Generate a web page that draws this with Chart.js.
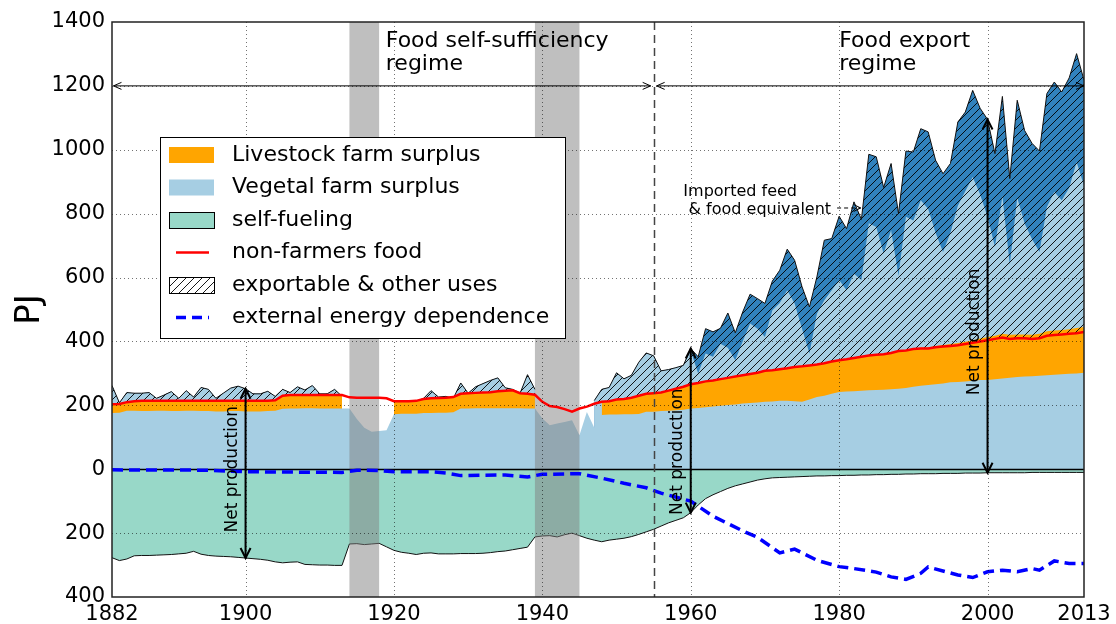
<!DOCTYPE html>
<html>
<head>
<meta charset="utf-8">
<script src="https://cdn.jsdelivr.net/npm/chart.js@4.4.0/dist/chart.umd.min.js"></script>
<style>
  body { margin: 0; background: #fff; }
  canvas { display: block; }
</style>
</head>
<body>
<canvas id="chart" width="1116" height="624"></canvas>
<script>
// years 1882..2013, one value per year
const years = [];
for (let yr = 1882; yr <= 2013; yr++) years.push(yr);

// total incl. imported feed (top outline), null during the wars
const topTotal = [
  262, 208, 240, 238, 238, 240, 222, 232, 243, 222,   // 1882-1891
  246, 226, 256, 250, 222, 238, 254, 260, 252, 236,   // 1892-1901
  236, 244, 228, 250, 240, 258, 248, 262, 236, 236,   // 1902-1911
  250, 228, null, null, null, null, null, null, 200, 205, // 1912-1921
  208, 212, 222, 246, 226, 228, 222, 270, 238, 258,   // 1922-1931
  268, 278, 286, 255, 250, 238, 296, 250, null, null, // 1932-1941
  null, null, null, null, null, 215, 250, 256, 302, 283, // 1942-1951
  294, 335, 364, 355, 308, 312, 318, 325, 378, 352,   // 1952-1961
  440, 430, 441, 489, 427, 492, 548, 534, 519, 589,   // 1962-1971
  623, 689, 654, 571, 508, 602, 717, 722, 792, 753,   // 1972-1981
  837, 782, 986, 978, 882, 957, 800, 996, 993, 1066,  // 1982-1991
  1056, 967, 925, 957, 1087, 1118, 1186, 1130, 1095, 988, // 1992-2001
  1167, 910, 1155, 1060, 1020, 996, 1176, 1212, 1181, 1225, // 2002-2011
  1301, 1218                                          // 2012-2013
];

// domestic production top (light blue under the dark blue imports), 1960..2013
const domestic1960 = [
  370, 300, 362, 352, 393, 380, 341, 400, 456, 440,   // 1960-1969
  414, 498, 520, 560, 519, 440, 362, 487, 529, 560,   // 1970-1979
  592, 560, 612, 592, 770, 758, 675, 748, 606, 790,   // 1980-1989
  779, 842, 815, 740, 680, 740, 825, 870, 915, 860,   // 1990-1999
  790, 696, 855, 640, 850, 769, 720, 680, 821, 868,   // 2000-2009
  842, 880, 962, 888                                  // 2010-2013
];

// vegetal farm surplus
const vegetal = [
  176, 177, 183, 183, 182, 182, 183, 183, 182, 182,   // 1882-1891
  183, 183, 182, 182, 181, 181, 182, 182, 181, 181,   // 1892-1901
  181, 182, 183, 189, 190, 190, 191, 191, 190, 190,   // 1902-1911
  190, 190, 190, 157, 130, 117, 120, 122, 172, 174,   // 1912-1921
  174, 174, 176, 176, 177, 177, 178, 190, 190, 191,   // 1922-1931
  191, 191, 191, 191, 191, 191, 190, 190, 159, 138,   // 1932-1941
  143, 148, 153, 106, 179, 130, 170, 171, 171, 172,   // 1942-1951
  172, 173, 180, 180, 182, 183, 185, 186, 190, 192,   // 1952-1961
  194, 196, 199, 201, 203, 206, 207, 209, 211, 212,   // 1962-1971
  214, 214, 213, 211, 218, 226, 230, 236, 242, 243,   // 1972-1981
  244, 246, 247, 248, 249, 250, 252, 254, 258, 261,   // 1982-1991
  264, 266, 268, 272, 273, 275, 277, 279, 279, 282,   // 1992-2001
  284, 286, 289, 290, 291, 293, 294, 296, 297, 299,   // 2002-2011
  300, 302                                            // 2012-2013
];

// vegetal + livestock farm surplus (top of the orange band)
const livestockTop = [
  202, 203, 209, 212, 213, 213, 213, 213, 213, 213,   // 1882-1891
  213, 213, 213, 213, 213, 213, 213, 213, 213, 213,   // 1892-1901
  213, 213, 215, 229, 231, 231, 231, 231, 231, 231,   // 1902-1911
  231, 231, null, null, null, null, null, null, 212, 212, // 1912-1921
  212, 213, 219, 221, 222, 223, 225, 235, 237, 238,   // 1922-1931
  239, 240, 243, 245, 246, 237, 235, 232, null, null, // 1932-1941
  null, null, null, null, null, null, 210, 212, 217, 219, // 1942-1951
  223, 229, 235, 237, 239, 245, 251, 257, 265, 269,   // 1952-1961
  274, 277, 281, 285, 289, 293, 297, 301, 307, 309,   // 1962-1971
  312, 315, 319, 321, 324, 327, 331, 336, 340, 343,   // 1972-1981
  347, 351, 355, 357, 359, 363, 369, 372, 377, 380,   // 1982-1991
  381, 386, 389, 392, 395, 399, 404, 409, 414, 418,   // 1992-2001
  424, 421, 422, 422, 421, 424, 432, 434, 436, 438,   // 2002-2011
  442, 445                                            // 2012-2013
];

// non-farmers food (red line)
const nonFarmers = [
  203, 204, 210, 213, 214, 214, 214, 214, 214, 214,   // 1882-1891
  214, 214, 214, 214, 214, 214, 214, 214, 214, 214,   // 1892-1901
  214, 214, 216, 230, 232, 232, 232, 232, 232, 232,   // 1902-1911
  232, 232, 225, 224, 224, 224, 224, 222, 213, 213,   // 1912-1921
  213, 214, 220, 222, 223, 224, 226, 236, 238, 239,   // 1922-1931
  240, 241, 244, 246, 247, 238, 236, 233, 211, 198,   // 1932-1941
  195, 188, 180, 190, 196, 205, 211, 213, 218, 220,   // 1942-1951
  224, 230, 236, 238, 240, 246, 252, 258, 266, 270,   // 1952-1961
  275, 278, 282, 286, 290, 294, 298, 302, 308, 310,   // 1962-1971
  313, 316, 320, 322, 325, 328, 332, 337, 341, 344,   // 1972-1981
  348, 352, 356, 358, 360, 364, 370, 372, 376, 378,   // 1982-1991
  378, 382, 384, 386, 388, 392, 396, 400, 404, 408,   // 1992-2001
  412, 408, 410, 410, 408, 410, 418, 420, 422, 424,   // 2002-2011
  426, 430                                            // 2012-2013
];

// self-fueling (negative side)
const selfFueling = [
  -277, -286, -281, -271, -270, -270, -269, -268, -267, -265, // 1882-1891
  -263, -257, -266, -270, -272, -273, -274, -276, -278, -280, // 1892-1901
  -282, -285, -290, -293, -291, -290, -298, -299, -300, -300, // 1902-1911
  -301, -301, -234, -233, -236, -234, -232, -243, -254, -260, // 1912-1921
  -263, -267, -263, -262, -265, -265, -265, -264, -264, -264, // 1922-1931
  -263, -261, -258, -256, -252, -248, -244, -212, -209, -208, // 1932-1941
  -212, -205, -200, -208, -216, -222, -227, -222, -219, -216, // 1942-1951
  -211, -204, -196, -188, -178, -168, -160, -152, -136, -112, // 1952-1961
  -92, -80, -70, -60, -52, -46, -40, -34, -30, -27,           // 1962-1971
  -26, -25, -24, -23, -22, -21, -21, -20, -20, -19,           // 1972-1981
  -19, -18, -18, -17, -17, -16, -16, -15, -15, -14,           // 1982-1991
  -14, -14, -13, -13, -13, -12, -12, -12, -11, -11,           // 1992-2001
  -11, -11, -11, -11, -10, -10, -10, -10, -10, -10,           // 2002-2011
  -10, -10                                                    // 2012-2013
];

// external energy dependence (blue dashed)
const depYears = [1882, 1895, 1900, 1913, 1915, 1918, 1920, 1925, 1927, 1929,
  1935, 1938, 1940, 1945, 1948, 1951, 1954, 1956, 1960, 1963,
  1967, 1969, 1972, 1974, 1977, 1980, 1982, 1985, 1987, 1989,
  1991, 1992, 1996, 1998, 2000, 2002, 2004, 2006, 2007, 2009,
  2011, 2013];
const depValues = [-2, -3, -8, -10, -3, -4, -8, -8, -12, -20,
  -18, -24, -16, -14, -28, -44, -58, -75, -100, -147,
  -193, -213, -262, -250, -285, -305, -311, -322, -337, -345,
  -326, -306, -331, -339, -321, -316, -321, -311, -316, -287,
  -295, -295];

const xTicks = [1882, 1900, 1920, 1940, 1960, 1980, 2000, 2013];
const warYears = [[1914, 1918], [1939, 1945]];
const regimeSplit = 1955;
const arrowYears = [1900, 1960, 2000];
const legendLabels = ['Livestock farm surplus', 'Vegetal farm surplus', 'self-fueling',
  'non-farmers food', 'exportable & other uses', 'external energy dependence'];

const ORANGE = '#ffa500', LIGHT = '#a6cee3', DARK = '#3182bd', TEAL = '#98d8c8';
const FONT = "'DejaVu Sans', sans-serif";
const NONE = 'rgba(0,0,0,0)';

const canvas = document.getElementById('chart');
const mainCtx = canvas.getContext('2d');

function makeHatch(size) {
  const c = document.createElement('canvas');
  c.width = size; c.height = size;
  const g = c.getContext('2d');
  g.strokeStyle = 'rgba(0,0,0,0.9)';
  g.lineWidth = 1;
  g.beginPath();
  g.moveTo(0, size); g.lineTo(size, 0);
  g.moveTo(-size / 2, size / 2); g.lineTo(size / 2, -size / 2);
  g.moveTo(size / 2, size * 1.5); g.lineTo(size * 1.5, size / 2);
  g.stroke();
  return mainCtx.createPattern(c, 'repeat');
}
const hatch = makeHatch(8);

const pts = arr => years.map((yr, i) => ({ x: yr, y: arr[i] }));
const domesticTop = years.map((yr, i) => yr < 1960 ? topTotal[i] : domestic1960[yr - 1960]);
const yearIndex = yr => years.indexOf(yr);

function arrowHead(ctx, x, y, ang, len, half) {
  const c = Math.cos(ang), s = Math.sin(ang);
  ctx.beginPath();
  ctx.moveTo(x - len * c + half * s, y - len * s - half * c);
  ctx.lineTo(x, y);
  ctx.lineTo(x - len * c - half * s, y - len * s + half * c);
  ctx.stroke();
}

function doubleArrow(ctx, x0, y0, x1, y1, len, half) {
  ctx.beginPath(); ctx.moveTo(x0, y0); ctx.lineTo(x1, y1); ctx.stroke();
  const ang = Math.atan2(y1 - y0, x1 - x0);
  arrowHead(ctx, x1, y1, ang, len, half);
  arrowHead(ctx, x0, y0, ang + Math.PI, len, half);
}

const decor = {
  id: 'decor',
  afterDatasetDraw(chart, args) {
    if (args.index !== 2) return;
    const { ctx, chartArea: a, scales: { x, y } } = chart;
    ctx.save();
    ctx.fillStyle = 'rgba(128,128,128,0.5)';
    warYears.forEach(([s, e]) => {
      const x0 = x.getPixelForValue(s), x1 = x.getPixelForValue(e);
      ctx.fillRect(x0, a.top, x1 - x0, a.bottom - a.top);
    });
    const y0 = Math.round(y.getPixelForValue(0)) + 0.5;
    ctx.strokeStyle = '#000';
    ctx.lineWidth = 1.5;
    ctx.beginPath(); ctx.moveTo(a.left, y0); ctx.lineTo(a.right, y0); ctx.stroke();
    ctx.restore();
  },
  afterDatasetsDraw(chart) {
    const { ctx, chartArea: a, scales: { x, y } } = chart;
    ctx.save();

    // dotted grid
    ctx.strokeStyle = 'rgba(0,0,0,0.55)';
    ctx.lineWidth = 1;
    ctx.setLineDash([1, 3]);
    ctx.beginPath();
    xTicks.slice(1, -1).forEach(v => {
      const px = Math.round(x.getPixelForValue(v)) + 0.5;
      ctx.moveTo(px, a.top); ctx.lineTo(px, a.bottom);
    });
    for (let v = -200; v <= 1200; v += 200) {
      if (v === 0) continue;
      const py = Math.round(y.getPixelForValue(v)) + 0.5;
      ctx.moveTo(a.left, py); ctx.lineTo(a.right, py);
    }
    ctx.stroke();

    // regime split
    const xs = Math.round(x.getPixelForValue(regimeSplit)) + 0.5;
    ctx.strokeStyle = '#444';
    ctx.lineWidth = 1.5;
    ctx.setLineDash([8, 5]);
    ctx.beginPath(); ctx.moveTo(xs, a.top); ctx.lineTo(xs, a.bottom); ctx.stroke();
    ctx.setLineDash([]);

    // frame
    ctx.strokeStyle = '#222';
    ctx.lineWidth = 1.5;
    ctx.strokeRect(a.left, a.top, a.right - a.left, a.bottom - a.top);

    // regime arrows
    ctx.strokeStyle = '#000';
    ctx.lineWidth = 1;
    const yr12 = y.getPixelForValue(1200);
    doubleArrow(ctx, x.getPixelForValue(1882.2), yr12, x.getPixelForValue(1954.6), yr12, 8, 3.5);
    doubleArrow(ctx, x.getPixelForValue(1955.4), yr12, x.getPixelForValue(2013), yr12, 8, 3.5);

    // net production arrows
    ctx.lineWidth = 2;
    arrowYears.forEach(yr => {
      const i = yearIndex(yr);
      const px = x.getPixelForValue(yr);
      doubleArrow(ctx, px, y.getPixelForValue(selfFueling[i]), px, y.getPixelForValue(topTotal[i]), 10, 5);
    });

    ctx.fillStyle = '#000';
    ctx.font = '17px ' + FONT;
    ctx.textAlign = 'center';
    ctx.textBaseline = 'alphabetic';
    [[1900, 0], [1960, 55], [2000, 430]].forEach(([yr, v]) => {
      ctx.save();
      ctx.translate(x.getPixelForValue(yr) - 9, y.getPixelForValue(v));
      ctx.rotate(-Math.PI / 2);
      ctx.fillText('Net production', 0, 0);
      ctx.restore();
    });

    // regime labels
    ctx.textAlign = 'left';
    ctx.font = '22px ' + FONT;
    ctx.fillText('Food self-sufficiency', x.getPixelForValue(1918.9), y.getPixelForValue(1323));
    ctx.fillText('regime', x.getPixelForValue(1918.9), y.getPixelForValue(1250));
    ctx.fillText('Food export', x.getPixelForValue(1980), y.getPixelForValue(1323));
    ctx.fillText('regime', x.getPixelForValue(1980), y.getPixelForValue(1250));

    // imported feed note
    ctx.font = '16px ' + FONT;
    ctx.fillText('Imported feed', x.getPixelForValue(1959), y.getPixelForValue(854));
    const line2 = '& food equivalent';
    const l2x = x.getPixelForValue(1959.7), l2y = y.getPixelForValue(799);
    ctx.fillText(line2, l2x, l2y);
    const ax0 = l2x + ctx.measureText(line2).width + 6;
    const ax1 = x.getPixelForValue(1982.9), ay = l2y - 6;
    ctx.lineWidth = 1;
    ctx.setLineDash([4, 3]);
    ctx.beginPath(); ctx.moveTo(ax0, ay); ctx.lineTo(ax1, ay); ctx.stroke();
    ctx.setLineDash([]);
    arrowHead(ctx, ax1, ay, 0, 7, 3.5);

    // legend
    const L = { x: 160.5, y: 137.5, w: 405, h: 201 };
    ctx.fillStyle = '#fff';
    ctx.fillRect(L.x, L.y, L.w, L.h);
    ctx.strokeStyle = '#000';
    ctx.lineWidth = 1;
    ctx.strokeRect(L.x, L.y, L.w, L.h);
    const rowY = [155, 187.5, 220, 252.5, 285, 317.5];
    const px0 = 169, pw = 45, ph = 16;
    ctx.fillStyle = ORANGE; ctx.fillRect(px0, rowY[0] - ph / 2, pw, ph);
    ctx.fillStyle = LIGHT; ctx.fillRect(px0, rowY[1] - ph / 2, pw, ph);
    ctx.fillStyle = TEAL; ctx.fillRect(px0, rowY[2] - ph / 2, pw, ph);
    ctx.strokeRect(px0 + 0.5, rowY[2] - ph / 2 + 0.5, pw, ph);
    ctx.strokeStyle = '#ff0000'; ctx.lineWidth = 2.5;
    ctx.beginPath(); ctx.moveTo(176, rowY[3]); ctx.lineTo(209, rowY[3]); ctx.stroke();
    ctx.fillStyle = hatch; ctx.fillRect(px0, rowY[4] - ph / 2, pw, ph);
    ctx.strokeStyle = '#000'; ctx.lineWidth = 1;
    ctx.strokeRect(px0 + 0.5, rowY[4] - ph / 2 + 0.5, pw, ph);
    ctx.strokeStyle = '#0000ff'; ctx.lineWidth = 3.5; ctx.setLineDash([10, 6]);
    ctx.beginPath(); ctx.moveTo(176, rowY[5]); ctx.lineTo(209, rowY[5]); ctx.stroke();
    ctx.setLineDash([]);
    ctx.fillStyle = '#000';
    ctx.font = '22px ' + FONT;
    ctx.textBaseline = 'middle';
    legendLabels.forEach((t, i) => ctx.fillText(t, 232, rowY[i]));

    ctx.restore();
  }
};

const base = { pointRadius: 0, pointHoverRadius: 0, tension: 0, spanGaps: false };

new Chart(canvas, {
  type: 'line',
  data: {
    datasets: [
      { ...base, label: 'external energy dependence',
        data: depYears.map((yr, i) => ({ x: yr, y: depValues[i] })),
        borderColor: '#0000ff', borderWidth: 3.5, borderDash: [11, 6], fill: false },
      { ...base, label: 'non-farmers food', data: pts(nonFarmers),
        borderColor: '#ff0000', borderWidth: 2.5, fill: false },
      { ...base, label: 'exportable & other uses', data: pts(topTotal),
        borderColor: NONE, borderWidth: 0, backgroundColor: hatch,
        fill: { target: 1, above: hatch, below: NONE } },
      { ...base, label: 'Vegetal farm surplus', data: pts(vegetal),
        borderColor: NONE, borderWidth: 0, backgroundColor: LIGHT, fill: 'origin' },
      { ...base, label: 'Livestock farm surplus', data: pts(livestockTop),
        borderColor: NONE, borderWidth: 0, backgroundColor: ORANGE, fill: 'origin' },
      { ...base, label: 'total outline', data: pts(topTotal),
        borderColor: '#111', borderWidth: 1, fill: false },
      { ...base, label: 'domestic production', data: pts(domesticTop),
        borderColor: NONE, borderWidth: 0, backgroundColor: LIGHT, fill: 'origin' },
      { ...base, label: 'imported feed & food equivalent', data: pts(topTotal),
        borderColor: NONE, borderWidth: 0, backgroundColor: DARK, fill: 'origin' },
      { ...base, label: 'self-fueling', data: pts(selfFueling),
        borderColor: '#111', borderWidth: 1, backgroundColor: TEAL, fill: 'origin' }
    ]
  },
  options: {
    responsive: false,
    animation: false,
    events: [],
    layout: { padding: { top: 22, right: 32, bottom: 0, left: 0 } },
    plugins: { legend: { display: false }, tooltip: { enabled: false } },
    scales: {
      x: {
        type: 'linear', min: 1882, max: 2013,
        afterBuildTicks: s => { s.ticks = xTicks.map(v => ({ value: v })); },
        afterFit: s => { s.height = 27; },
        grid: { display: false, drawTicks: false },
        border: { display: false },
        ticks: { autoSkip: false, maxRotation: 0, padding: 5, color: '#000',
          font: { family: FONT, size: 21 }, callback: v => String(v) }
      },
      y: {
        min: -400, max: 1400,
        afterFit: s => { s.width = 112; },
        grid: { display: false, drawTicks: false },
        border: { display: false },
        ticks: { stepSize: 200, padding: 7, color: '#000',
          font: { family: FONT, size: 21 }, callback: v => String(Math.abs(v)) },
        title: { display: true, text: 'PJ', color: '#000', padding: { top: 10, bottom: 0 },
          font: { family: FONT, size: 34 } }
      }
    }
  },
  plugins: [decor]
});
</script>
</body>
</html>
